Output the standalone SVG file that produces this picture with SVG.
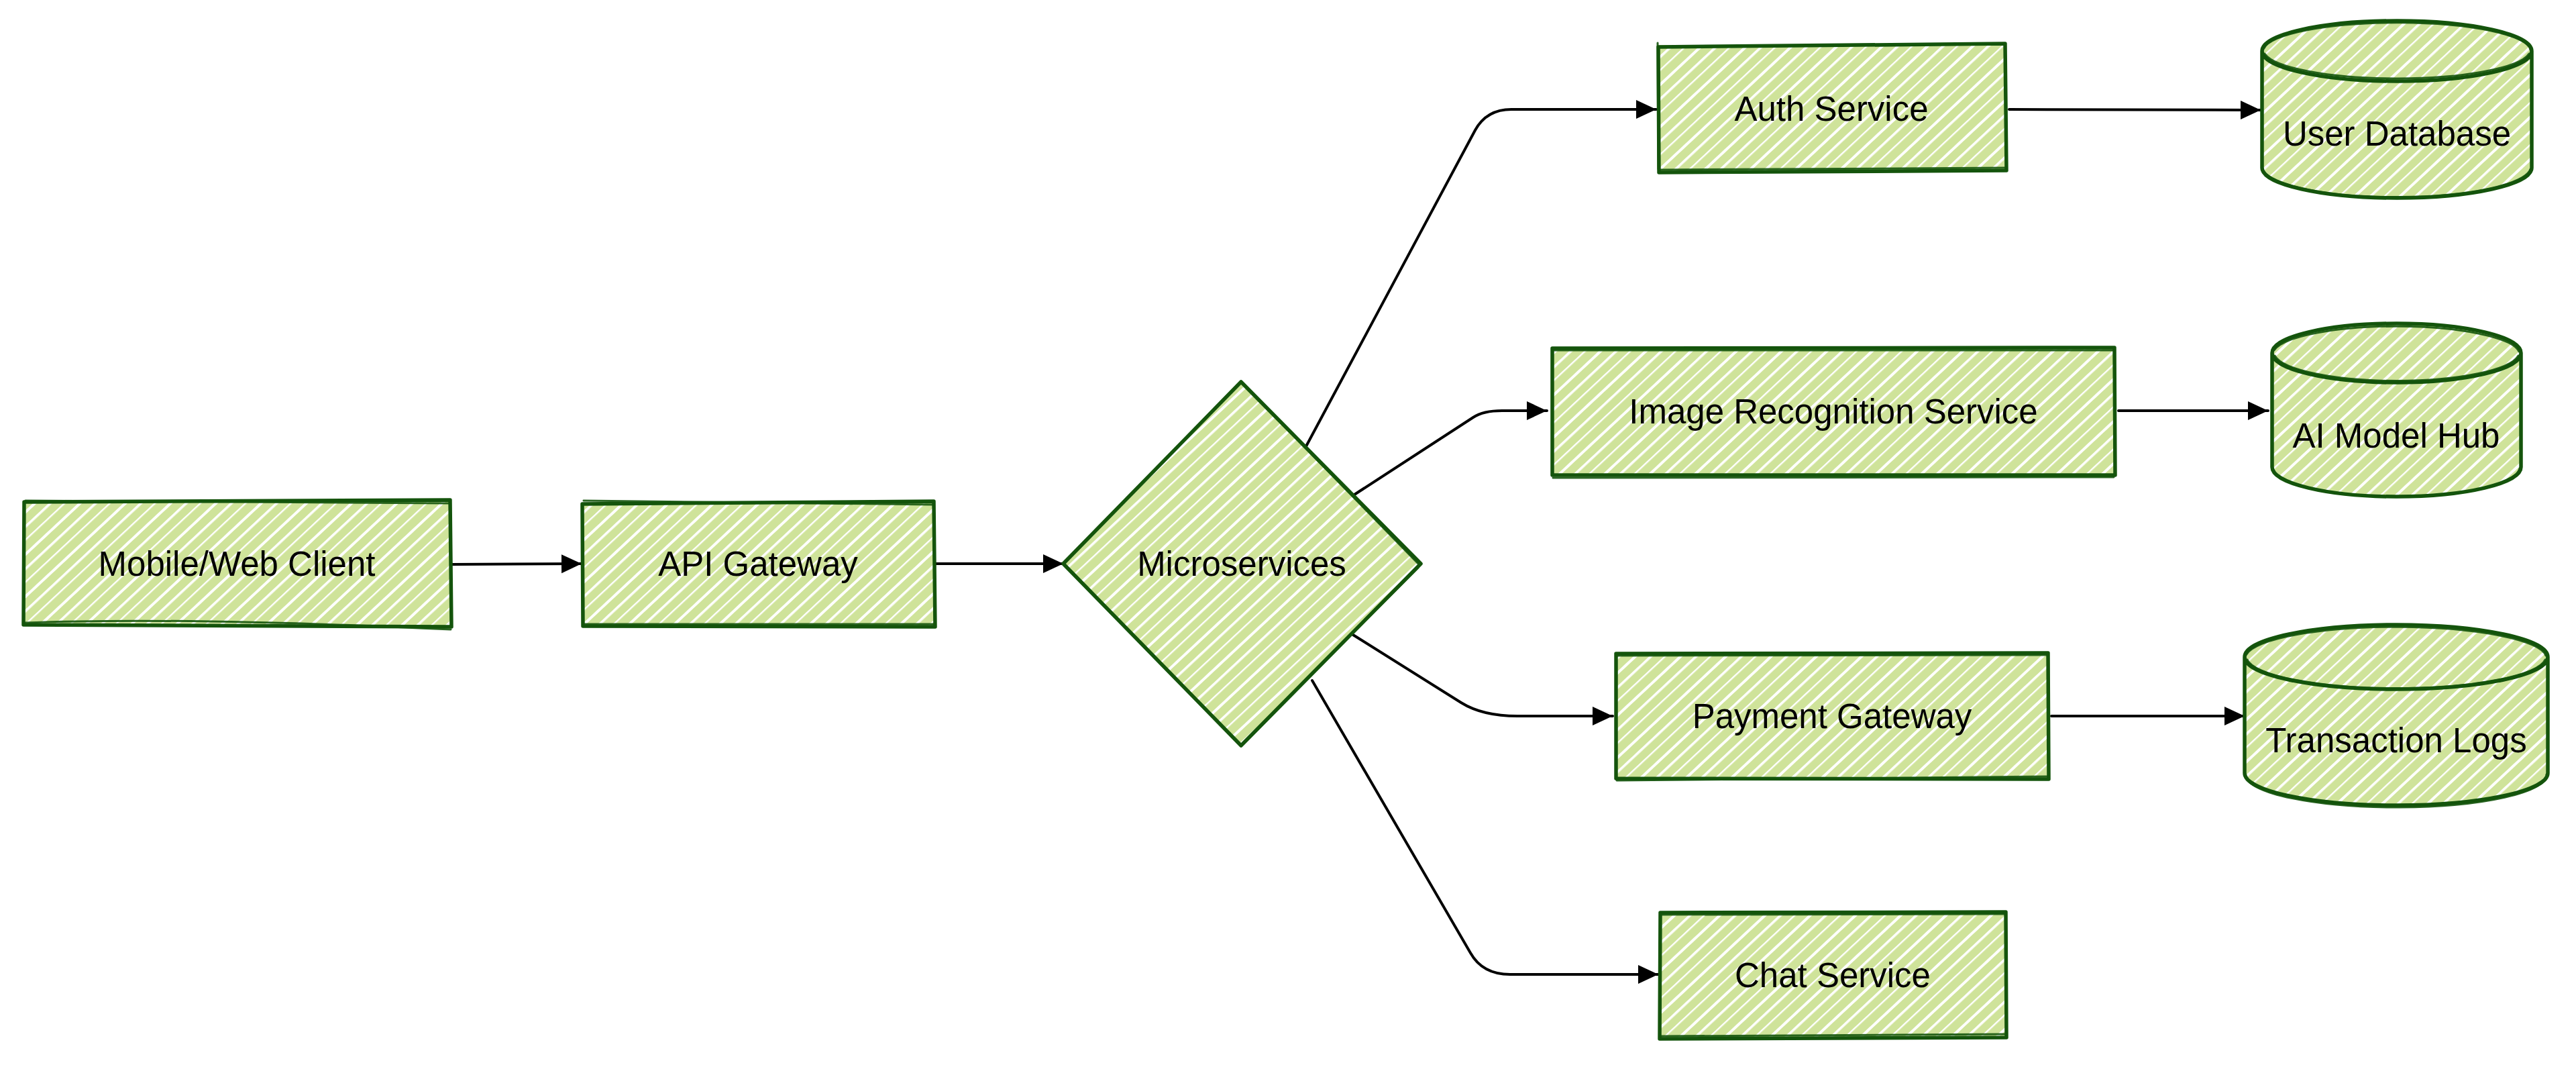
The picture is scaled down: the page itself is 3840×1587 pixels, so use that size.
<svg xmlns="http://www.w3.org/2000/svg" xmlns:xlink="http://www.w3.org/1999/xlink" width="3840" height="1587" viewBox="0 0 3840 1587">
<defs>
<pattern id="hach" patternUnits="userSpaceOnUse" width="46" height="46" patternTransform="rotate(47)">
<rect width="46" height="46" fill="#cfe39a"/>
<rect x="0" y="0" width="3.6" height="46" fill="#ffffff"/>
<rect x="15" y="0" width="2.4" height="46" fill="#ffffff"/>
<rect x="30" y="0" width="4" height="46" fill="#ffffff"/>
</pattern>
<marker id="arr" markerUnits="userSpaceOnUse" markerWidth="31" markerHeight="29" refX="30" refY="14" orient="auto">
<path d="M0,0 L30,14 L0,28 Z" fill="#000000"/>
</marker>
</defs>
<style>
.fill{fill:url(#hach);stroke:none}
.ol{fill:none;stroke:#14540c;stroke-width:5.5;stroke-linejoin:round;stroke-linecap:round}
.ol2{fill:none;stroke:#14540c;stroke-width:3;stroke-linejoin:round;stroke-linecap:round;opacity:0.9}
.lbl{font-family:"Liberation Sans",Arial,Helvetica,sans-serif;font-size:51px;fill:#000000;text-anchor:middle;dominant-baseline:central}
.edge{fill:none;stroke:#000000;stroke-width:4;stroke-linejoin:round;stroke-linecap:round;marker-end:url(#arr)}
</style>
<rect width="3840" height="1587" fill="#ffffff"/>

<g id="connectors">
<path class="edge" d="M673,841 L867,840"/>
<path class="edge" d="M1395,840 L1585,840"/>
<path class="edge" d="M1947,665 L2199,194 Q2216,163 2253,163 L2469,163"/>
<path class="edge" d="M2019,737 L2196,622 Q2211,612 2239,612 L2306,612"/>
<path class="edge" d="M2017,946 L2178,1047 Q2210,1067 2262,1067 L2404,1067"/>
<path class="edge" d="M1956,1014 L2192,1420 Q2210,1452 2251,1452 L2472,1452"/>
<path class="edge" d="M2995,163 L3370,164"/>
<path class="edge" d="M3158,612 L3381,612"/>
<path class="edge" d="M3058,1067 L3346,1067"/>
</g>

<g id="client">
<rect class="fill" x="35" y="747" width="637" height="186"/>
<path class="ol" d="M36,748 L671,745 L673,934 L35,931 Z"/>
<path class="ol2" d="M38,746 L670,750 M35,928 C200,922 400,925 672,938"/>
<text class="lbl" x="353" y="840">Mobile/Web Client</text>
</g>

<g id="api">
<rect class="fill" x="867" y="749" width="526" height="184"/>
<path class="ol" d="M868,751 L1392,747 L1394,934 L869,933 Z"/>
<path class="ol2" d="M870,746 L1391,752 M869,930 L1393,930"/>
<text class="lbl" x="1130" y="840">API Gateway</text>
</g>

<g id="micro">
<path class="fill" d="M1850,569 L2118,840 L1850,1111 L1585,840 Z"/>
<path class="ol" d="M1850,569 L2118,840 L1850,1111 L1585,840 Z"/>
<path class="ol2" d="M1853,572 L2115,841 M2114,846 L1852,1108"/>
<text class="lbl" x="1851" y="840">Microservices</text>
</g>

<g id="auth">
<rect class="fill" x="2471" y="67" width="519" height="189"/>
<path class="ol" d="M2472,70 L2989,65 L2991,254 L2473,257 Z"/>
<path class="ol2" d="M2471,64 L2472,252 M2473,253 L2990,250"/>
<text class="lbl" x="2730" y="162">Auth Service</text>
</g>

<g id="image">
<rect class="fill" x="2313" y="518" width="840" height="191"/>
<path class="ol" d="M2314,519 L3152,518 L3153,708 L2314,708 Z"/>
<path class="ol2" d="M2315,522 L3150,522 M2315,712 L3151,711"/>
<text class="lbl" x="2733" y="613">Image Recognition Service</text>
</g>

<g id="payment">
<rect class="fill" x="2408" y="973" width="646" height="189"/>
<path class="ol" d="M2409,974 L3053,973 L3054,1161 L2409,1160 Z"/>
<path class="ol2" d="M2410,977 L3052,976 M2410,1163 L3052,1157"/>
<text class="lbl" x="2731" y="1067">Payment Gateway</text>
</g>

<g id="chat">
<rect class="fill" x="2474" y="1359" width="517" height="188"/>
<path class="ol" d="M2475,1360 L2990,1359 L2991,1546 L2474,1548 Z"/>
<path class="ol2" d="M2476,1363 L2989,1362 M2476,1544 L2990,1541"/>
<text class="lbl" x="2732" y="1453">Chat Service</text>
</g>

<g id="userdb">
<path class="fill" d="M3372,76 A201,45 0 0 1 3774,76 L3774,250 A201,45 0 0 1 3372,250 Z"/>
<path class="ol" d="M3372,76 A201,45 0 0 1 3774,76 L3774,250 A201,45 0 0 1 3372,250 Z M3372,76 A201,45 0 0 0 3774,76"/>
<path class="ol2" d="M3375,72 A199,42 0 0 1 3772,74 M3376,80 A199,43 0 0 0 3770,80 M3374,254 A200,45 0 0 0 3772,252"/>
<text class="lbl" x="3573" y="199">User Database</text>
</g>

<g id="aihub">
<path class="fill" d="M3387,526 A185.5,44 0 0 1 3758,526 L3758,696 A185.5,44 0 0 1 3387,696 Z"/>
<path class="ol" d="M3387,526 A185.5,44 0 0 1 3758,526 L3758,696 A185.5,44 0 0 1 3387,696 Z M3387,526 A185.5,44 0 0 0 3758,526"/>
<path class="ol2" d="M3390,522 A184,42 0 0 1 3755,524 M3391,530 A183,43 0 0 0 3754,530 M3389,700 A184,44 0 0 0 3756,698"/>
<text class="lbl" x="3572" y="649">AI Model Hub</text>
</g>

<g id="translogs">
<path class="fill" d="M3346,979 A226,48 0 0 1 3798,979 L3798,1152 A226,48 0 0 1 3346,1152 Z"/>
<path class="ol" d="M3346,979 A226,48 0 0 1 3798,979 L3798,1152 A226,48 0 0 1 3346,1152 Z M3346,979 A226,48 0 0 0 3798,979"/>
<path class="ol2" d="M3349,975 A224,46 0 0 1 3795,977 M3350,983 A223,47 0 0 0 3794,983 M3348,1156 A224,48 0 0 0 3796,1154"/>
<text class="lbl" x="3572" y="1103">Transaction Logs</text>
</g>
</svg>
